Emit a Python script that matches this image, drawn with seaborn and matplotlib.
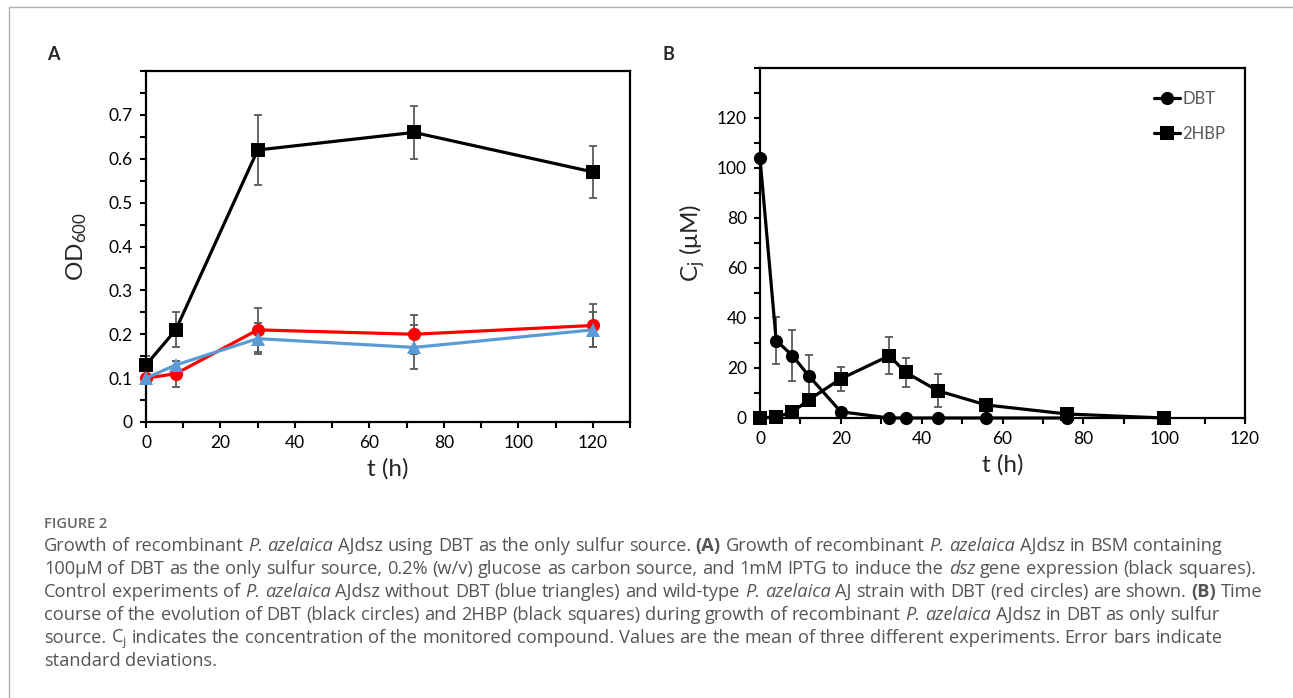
import matplotlib
matplotlib.use("Agg")
import numpy as np
import pandas as pd
import matplotlib.pyplot as plt
import seaborn as sns
from matplotlib.ticker import MultipleLocator, FuncFormatter
from matplotlib.lines import Line2D

# DATA - panel A (OD600 growth)
t_a = [0, 8, 30, 72, 120]
od_dsz = [0.13, 0.21, 0.62, 0.66, 0.57]
od_dsz_err = [0.02, 0.04, 0.08, 0.06, 0.06]
od_wt = [0.10, 0.11, 0.21, 0.20, 0.22]
od_wt_err = [0.01, 0.03, 0.05, 0.045, 0.05]
od_nodbt = [0.10, 0.13, 0.19, 0.17, 0.21]
od_nodbt_err = [0.01, 0.01, 0.035, 0.05, 0.04]

# DATA - panel B (DBT / 2HBP concentration)
t_dbt = [0, 4, 8, 12, 20, 32, 36, 44, 56, 76]
c_dbt = [104, 31, 25, 17, 2.5, 0, 0, 0, 0, 0]
c_dbt_err = [0, 9.3, 10.2, 8.3, 0, 0, 0, 0, 0, 0]
t_hbp = [0, 4, 8, 12, 20, 32, 36, 44, 56, 76, 100]
c_hbp = [0, 0.5, 2.3, 7.2, 15.7, 24.9, 18.3, 10.9, 5.2, 1.6, 0]
c_hbp_err = [0, 0, 0, 0, 4.8, 7.4, 5.7, 6.6, 0, 0, 0]

a_yticks = [0, 0.1, 0.2, 0.3, 0.4, 0.5, 0.6, 0.7]
b_yticks = [0, 20, 40, 60, 80, 100, 120]

# STYLE
sns.set_style("ticks")
plt.rcParams["font.family"] = ["Lato", "DejaVu Sans"]
plt.rcParams["mathtext.default"] = "regular"

W, H = 1293, 698
fig = plt.figure(figsize=(W / 100, H / 100), dpi=100)

ax_a = fig.add_axes([146 / W, 1 - 422 / H, 484 / W, 351 / H])
ax_b = fig.add_axes([760 / W, 1 - 418 / H, 485 / W, 350 / H])

df_a = pd.concat([
    pd.DataFrame({"t": t_a, "od": od_dsz, "strain": "dsz"}),
    pd.DataFrame({"t": t_a, "od": od_wt, "strain": "wt"}),
    pd.DataFrame({"t": t_a, "od": od_nodbt, "strain": "nodbt"}),
])
df_b = pd.concat([
    pd.DataFrame({"t": t_dbt, "c": c_dbt, "compound": "DBT"}),
    pd.DataFrame({"t": t_hbp, "c": c_hbp, "compound": "2HBP"}),
])

err_color = "#5a5a5a"

# PANEL A
sns.lineplot(data=df_a, x="t", y="od", hue="strain", style="strain",
             palette={"dsz": "black", "wt": "#ff0000", "nodbt": "#5b9bd5"},
             markers={"dsz": "s", "wt": "o", "nodbt": "^"}, dashes=False,
             markersize=9.5, linewidth=2.3, mew=0, legend=False, ax=ax_a, zorder=3,
             clip_on=False)
for y, e in [(od_dsz, od_dsz_err), (od_wt, od_wt_err), (od_nodbt, od_nodbt_err)]:
    ax_a.errorbar(t_a, y, yerr=e, fmt="none", ecolor=err_color, elinewidth=1.3,
                  capsize=3, capthick=1.3, zorder=2)

ax_a.set_xlim(0, 130)
ax_a.set_ylim(0, 0.8)
ax_a.xaxis.set_major_locator(MultipleLocator(20))
ax_a.xaxis.set_minor_locator(MultipleLocator(10))
ax_a.set_yticks(a_yticks)
ax_a.yaxis.set_minor_locator(MultipleLocator(0.05))
ax_a.yaxis.set_major_formatter(FuncFormatter(lambda v, p: f"{v:g}"))
ax_a.set_xlabel("t (h)", fontsize=17.5, labelpad=5)
ax_a.set_ylabel("OD$_{600}$", fontsize=17.5, labelpad=14)

# PANEL B
sns.lineplot(data=df_b, x="t", y="c", hue="compound", style="compound",
             palette={"DBT": "black", "2HBP": "black"},
             markers={"DBT": "o", "2HBP": "s"}, dashes=False,
             markersize=9.5, linewidth=2.3, mew=0, legend=False, ax=ax_b, zorder=3,
             clip_on=False)
ax_b.errorbar(t_dbt, c_dbt, yerr=c_dbt_err, fmt="none", ecolor=err_color,
              elinewidth=1.3, capsize=3, capthick=1.3, zorder=2)
ax_b.errorbar(t_hbp, c_hbp, yerr=c_hbp_err, fmt="none", ecolor=err_color,
              elinewidth=1.3, capsize=3, capthick=1.3, zorder=2)

ax_b.set_xlim(0, 120)
ax_b.set_ylim(0, 140)
ax_b.xaxis.set_major_locator(MultipleLocator(20))
ax_b.xaxis.set_minor_locator(MultipleLocator(10))
ax_b.set_yticks(b_yticks)
ax_b.yaxis.set_minor_locator(MultipleLocator(10))
ax_b.set_xlabel("t (h)", fontsize=17.5, labelpad=5)
ax_b.set_ylabel("C$_j$ (μM)", fontsize=17.5, labelpad=7)

leg_handles = [Line2D([], [], color="black", marker=m, markersize=9.5, lw=2.3, mew=0)
               for m in ["o", "s"]]
leg = ax_b.legend(leg_handles, ["DBT", "2HBP"], loc="upper right",
                  bbox_to_anchor=(0.99, 0.978), frameon=False, fontsize=12,
                  handlelength=1.6, handletextpad=0.1, labelspacing=1.15)
for txt in leg.get_texts():
    txt.set_color("#595959")

for ax in (ax_a, ax_b):
    for sp in ax.spines.values():
        sp.set_visible(True)
        sp.set_linewidth(1.6)
        sp.set_color("black")
        sp.set_zorder(2.5)
    ax.tick_params(which="both", direction="out", length=4.5, width=1.5,
                   labelsize=12.5, colors="black", pad=5)
    ax.tick_params(which="both", top=False, right=False)
    ax.grid(False)

fig.text(47 / W, 1 - 55 / H, "A", fontsize=13, fontweight="bold", va="center", ha="left")
fig.text(662 / W, 1 - 55 / H, "B", fontsize=13, fontweight="bold", va="center", ha="left")

# frame lines of the figure box
fig.add_artist(Line2D([9 / W, 1], [1 - 7 / H, 1 - 7 / H], color="#b0b0b0", lw=1))
fig.add_artist(Line2D([9 / W, 9 / W], [0, 1 - 7 / H], color="#b0b0b0", lw=1))

# CAPTION
cap_font = ["Open Sans", "DejaVu Sans"]
cap_color = "#555555"
fig.text(44 / W, 1 - 528 / H, "FIGURE 2", fontsize=10.5, fontweight="semibold",
         family=cap_font, color="#666666", va="baseline")

caption_lines = [
    [("Growth of recombinant ", "n"), ("P. azelaica", "i"),
     (" AJdsz using DBT as the only sulfur source. ", "n"), ("(A)", "b"),
     (" Growth of recombinant ", "n"), ("P. azelaica", "i"),
     (" AJdsz in BSM containing", "n")],
    [("100μM of DBT as the only sulfur source, 0.2% (w/v) glucose as carbon source, and 1mM IPTG to induce the ", "n"),
     ("dsz", "i"), (" gene expression (black squares).", "n")],
    [("Control experiments of ", "n"), ("P. azelaica", "i"),
     (" AJdsz without DBT (blue triangles) and wild-type ", "n"), ("P. azelaica", "i"),
     (" AJ strain with DBT (red circles) are shown. ", "n"), ("(B)", "b"), (" Time", "n")],
    [("course of the evolution of DBT (black circles) and 2HBP (black squares) during growth of recombinant ", "n"),
     ("P. azelaica", "i"), (" AJdsz in DBT as only sulfur", "n")],
    [("source. ", "n"), ("C$_j$", "n"),
     (" indicates the concentration of the monitored compound. Values are the mean of three different experiments. Error bars indicate", "n")],
    [("standard deviations.", "n")],
]
baselines = [551, 574, 597, 620, 643, 666]
line_ends = [1245, 1232, 1255, 1221, 1215]

renderer = fig.canvas.get_renderer()


def draw_line(parts, yb, size, draw=True):
    # lays out one caption line word by word, returns its right edge
    sp = fig.text(0, 0, "a a", fontsize=size, family=cap_font)
    sp2 = fig.text(0, 0, "aa", fontsize=size, family=cap_font)
    space_w = sp.get_window_extent(renderer).width - sp2.get_window_extent(renderer).width
    sp.remove()
    sp2.remove()
    x = 44.0
    for s, st in parts:
        kw = dict(fontsize=size, color=cap_color, va="baseline", ha="left", family=cap_font)
        if st == "i":
            kw["fontstyle"] = "italic"
        if st == "b":
            kw["fontweight"] = "bold"
        words = s.split(" ")
        for i, w in enumerate(words):
            if w:
                t = fig.text(x / W, 1 - yb / H, w, **kw)
                x += t.get_window_extent(renderer).width
                if not draw:
                    t.remove()
            if i < len(words) - 1:
                x += space_w
    return x


# pick the caption size so the lines end about where they do in the figure
trial = 12.0
mine = sum(draw_line(p, 0, trial, draw=False) - 44 for p in caption_lines[:5])
target = sum(e - 44 for e in line_ends)
cap_size = trial * target / mine

for parts, yb in zip(caption_lines, baselines):
    draw_line(parts, yb, cap_size)

fig.savefig("out.png", dpi=100)
